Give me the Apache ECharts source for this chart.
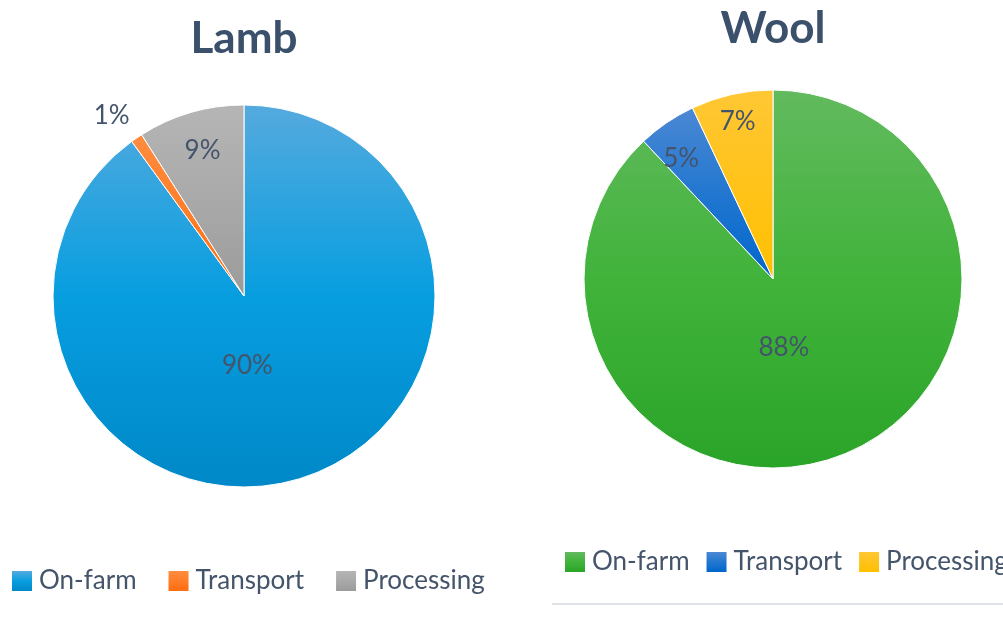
<!DOCTYPE html>
<html lang="en">
<head>
    <meta charset="UTF-8" />
    <title>Lamb and Wool</title>
    <script src="https://cdn.jsdelivr.net/npm/echarts@6/dist/echarts.min.js"></script>
    <style>
        html, body { margin: 0; padding: 0; background: #fff; overflow: hidden; }
        #lienzoLamb { position: absolute; left: 0; top: 0; width: 488px; height: 621px; }
        #lienzoWool { position: absolute; left: 540px; top: 0; width: 466px; height: 621px; }
    </style>
</head>
<body>
    <div id="lienzoLamb"></div>
    <div id="lienzoWool"></div>

    <script>
        // datos
        const categorias = ['On-farm', 'Transport', 'Processing'];
        const lambValores = [90, 1, 9];
        const woolValores = [88, 5, 7];

        const colorTexto = '#44546a';
        const fuente = 'Lato, "Noto Sans", sans-serif';

        function grad(arriba, medio, abajo) {
            return new echarts.graphic.LinearGradient(0, 0, 0, 1, [
                { offset: 0, color: arriba },
                { offset: 0.5, color: medio },
                { offset: 1, color: abajo }
            ]);
        }

        const coloresLamb = [
            grad('#55aade', '#079ee0', '#0088c8'),
            grad('#ff8c40', '#ff7d28', '#ff6c10'),
            grad('#b5b5b5', '#a9a9a9', '#9b9b9b')
        ];
        const coloresWool = [
            grad('#62ba5e', '#41b33b', '#2aa428'),
            grad('#4c88d4', '#2277d0', '#0066cc'),
            grad('#ffc734', '#ffc31a', '#ffc000')
        ];

        // desplazamiento de cada etiqueta desde la posicion "inside"
        const ajusteLamb = [[-27, -24], [-77, -99], [-14, -51]];
        const ajusteWool = [[-25, -22], [-37, -40], [-14, -62]];

        function opciones(titulo, valores, colores, ajuste, centro, radio, leyenda) {
            return {
                animation: false,
                title: {
                    text: titulo,
                    left: 'center',
                    top: leyenda.tituloTop,
                    padding: 0,
                    textStyle: { fontFamily: fuente, fontSize: 44, fontWeight: 'bold', color: '#3a506b' }
                },
                legend: {
                    left: leyenda.left,
                    top: leyenda.top,
                    width: 700,
                    padding: 0,
                    itemWidth: 20,
                    itemHeight: 20,
                    itemGap: leyenda.gap,
                    icon: 'rect',
                    itemStyle: { borderWidth: 0 },
                    textStyle: {
                        fontFamily: fuente, fontSize: 26, color: colorTexto,
                        lineHeight: 28, padding: [0, 0, 0, 2]
                    },
                    data: categorias
                },
                series: [{
                    type: 'pie',
                    center: centro,
                    radius: radio,
                    startAngle: 90,
                    clockwise: true,
                    itemStyle: { borderColor: '#ffffff', borderWidth: 1 },
                    label: {
                        show: true,
                        position: 'inside',
                        formatter: '{c}%',
                        fontFamily: fuente,
                        fontSize: 26,
                        color: colorTexto
                    },
                    labelLine: { show: false },
                    labelLayout: (p) => ({ dx: ajuste[p.dataIndex][0], dy: ajuste[p.dataIndex][1] }),
                    emphasis: { disabled: true },
                    data: categorias.map((nombre, i) => ({
                        name: nombre,
                        value: valores[i],
                        itemStyle: { color: colores[i] }
                    }))
                }]
            };
        }

        let graficaLamb = echarts.init(document.getElementById('lienzoLamb'));
        graficaLamb.setOption(opciones('Lamb', lambValores, coloresLamb, ajusteLamb, [244, 296], 191,
            { left: 12, top: 567, gap: 32, tituloTop: 17 }));

        let graficaWool = echarts.init(document.getElementById('lienzoWool'));
        let opWool = opciones('Wool', woolValores, coloresWool, ajusteWool, [233, 279], 189,
            { left: 25, top: 548, gap: 17, tituloTop: 7 });
        opWool.graphic = [{
            type: 'line',
            shape: { x1: 12, y1: 604, x2: 466, y2: 604 },
            style: { stroke: '#dee2e7', lineWidth: 2 }
        }];
        graficaWool.setOption(opWool);
    </script>
</body>
</html>
